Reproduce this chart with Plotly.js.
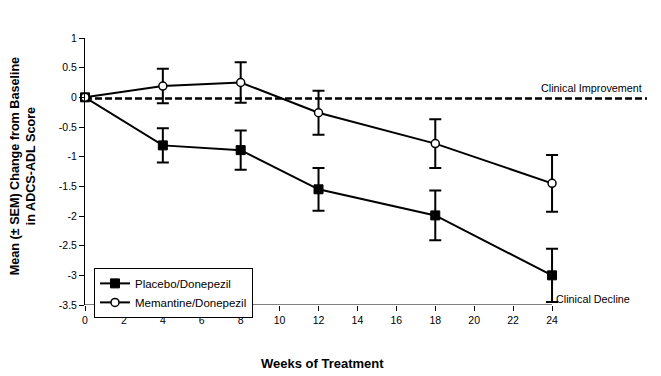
<!DOCTYPE html>
<html>
<head>
<meta charset="utf-8">
<script src="https://cdn.plot.ly/plotly-3.0.1.min.js"></script>
<style>html,body{margin:0;padding:0;background:#fff;}#chart{width:661px;height:376px;}</style>
</head>
<body>
<div id="chart"></div>
<script>
var weeks = [0, 4, 8, 12, 18, 24];
var placeboMean = [0, -0.81, -0.89, -1.55, -1.99, -3.0];
var placeboSEM = [0, 0.29, 0.33, 0.36, 0.42, 0.45];
var memantineMean = [0, 0.19, 0.25, -0.26, -0.78, -1.45];
var memantineSEM = [0, 0.29, 0.34, 0.37, 0.41, 0.48];
var xTicks = [0, 2, 4, 6, 8, 10, 12, 14, 16, 18, 20, 22, 24];
var yTicks = [1, 0.5, 0, -0.5, -1, -1.5, -2, -2.5, -3, -3.5];
var seriesNames = ["Placebo/Donepezil", "Memantine/Donepezil"];

var FONT = "Liberation Sans, Arial, sans-serif";

var traces = [
  {
    x: weeks, y: placeboMean, name: seriesNames[0], type: "scatter", mode: "lines+markers",
    cliponaxis: false,
    line: {color: "#000", width: 2},
    marker: {symbol: "square", size: 9, color: "#000", line: {color: "#000", width: 1}},
    error_y: {type: "data", array: placeboSEM, visible: true, color: "#000", thickness: 2, width: 6}
  },
  {
    x: weeks, y: memantineMean, name: seriesNames[1], type: "scatter", mode: "lines+markers",
    cliponaxis: false,
    line: {color: "#000", width: 2},
    marker: {symbol: "circle", size: 8, color: "#fff", line: {color: "#000", width: 1.5}},
    error_y: {type: "data", array: memantineSEM, visible: true, color: "#000", thickness: 2, width: 6}
  }
];

var layout = {
  width: 661, height: 376,
  margin: {l: 85, r: 14, t: 38, b: 71},
  paper_bgcolor: "#fff", plot_bgcolor: "#fff",
  font: {family: FONT, size: 10, color: "#000"},
  showlegend: true,
  legend: {
    x: 0.016, y: 0.139, xanchor: "left", yanchor: "top",
    bgcolor: "#fff", bordercolor: "#000", borderwidth: 1,
    font: {family: FONT, size: 11.5, color: "#000"},
    tracegroupgap: 0, itemwidth: 30
  },
  xaxis: {
    range: [0, 28.88], tickvals: xTicks, ticktext: xTicks.map(String),
    showgrid: false, zeroline: false, showline: false,
    ticks: "outside", ticklen: 5, tickwidth: 1, tickcolor: "#000",
    tickfont: {family: FONT, size: 10.5, color: "#000"}
  },
  yaxis: {
    range: [-3.5, 1], tickvals: yTicks, ticktext: yTicks.map(String),
    showgrid: false, zeroline: false, showline: true, linecolor: "#000", linewidth: 1,
    ticks: "outside", ticklen: 5, tickwidth: 1, tickcolor: "#000",
    tickfont: {family: FONT, size: 10.5, color: "#000"}
  },
  shapes: [
    {type: "line", xref: "x", yref: "y", x0: 0, x1: 24, y0: -3.5, y1: -3.5, line: {color: "#000", width: 1}, layer: "below"},
    {type: "line", xref: "paper", yref: "y", x0: 0, x1: 1, y0: -0.02, y1: -0.02, line: {color: "#000", width: 2.5, dash: "7px,3px"}, layer: "below"}
  ],
  annotations: [
    {text: "Clinical Improvement", xref: "paper", yref: "y", x: 0.995, y: 0, xanchor: "right", yanchor: "bottom", yshift: 1, showarrow: false, font: {family: FONT, size: 10.8, color: "#000"}},
    {text: "Clinical Decline", xref: "x", yref: "y", x: 24, y: -3.4, xanchor: "left", yanchor: "middle", xshift: 2, showarrow: false, font: {family: FONT, size: 10.8, color: "#000"}},
    {text: "<b>Mean (± SEM) Change from Baseline<br>in ADCS-ADL Score</b>", xref: "paper", yref: "paper", x: 0, y: 0.52, xanchor: "center", yanchor: "middle", xshift: -62, textangle: -90, showarrow: false, font: {family: FONT, size: 12.6, color: "#000"}},
    {text: "<b>Weeks of Treatment</b>", xref: "x", yref: "paper", x: 12.2, y: 0, xanchor: "center", yanchor: "middle", yshift: -58, showarrow: false, font: {family: FONT, size: 13, color: "#000"}}
  ]
};

Plotly.newPlot("chart", traces, layout, {displayModeBar: false, staticPlot: true});
</script>
</body>
</html>
